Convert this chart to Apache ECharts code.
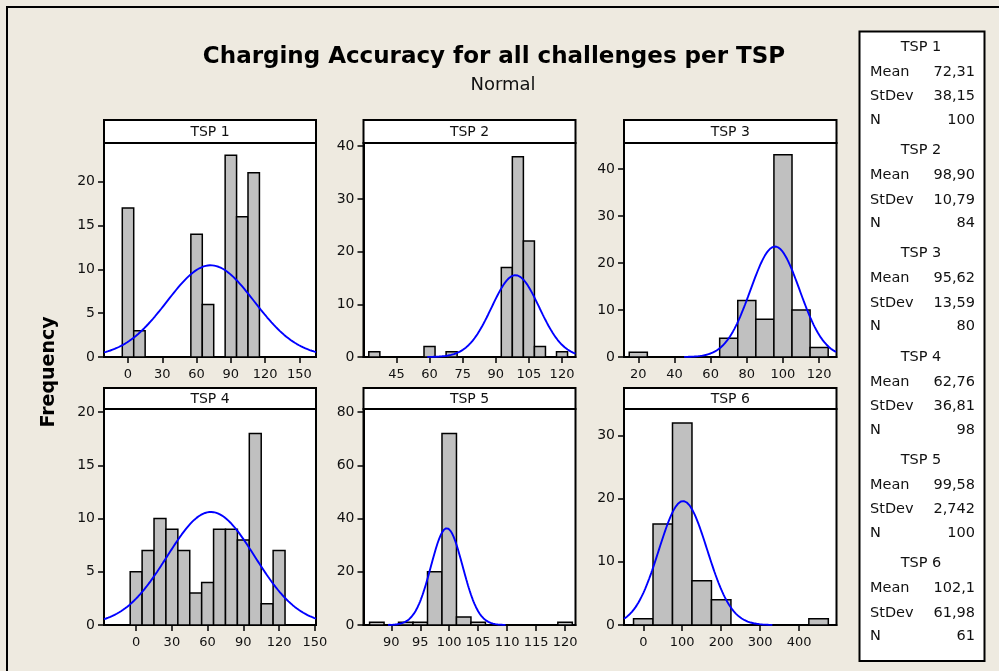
<!DOCTYPE html>
<html><head><meta charset="utf-8">
<script src="https://cdn.jsdelivr.net/npm/echarts@6/dist/echarts.min.js"></script>
<style>html,body{margin:0;padding:0;background:#eeeae0}#c{width:999px;height:671px}</style>
</head><body><div id="c"></div>
<script>
// ---- data ----
const panelNames = ['TSP 1','TSP 2','TSP 3','TSP 4','TSP 5','TSP 6'];
const means = [72.31, 98.90, 95.62, 62.76, 99.58, 102.1];
const stdevs = [38.15, 10.79, 13.59, 36.81, 2.742, 61.98];
const ns = [100, 84, 80, 98, 100, 61];
const meanLabels = ['72,31','98,90','95,62','62,76','99,58','102,1'];
const stdevLabels = ['38,15','10,79','13,59','36,81','2,742','61,98'];
const binWidths = [10, 5, 10, 10, 2.5, 50];
const tsp1Centers = [0,10,60,70,90,100,110];
const tsp1Counts  = [17,3,14,6,23,16,21];
const tsp2Centers = [35,60,70,95,100,105,110,120];
const tsp2Counts  = [1,2,1,17,38,22,2,1];
const tsp3Centers = [20,70,80,90,100,110,120];
const tsp3Counts  = [1,4,12,8,43,10,2];
const tsp4Centers = [0,10,20,30,40,50,60,70,80,90,100,110,120];
const tsp4Counts  = [5,7,10,9,7,3,4,9,9,8,18,2,7];
const tsp5Centers = [87.5,92.5,95,97.5,100,102.5,105,120];
const tsp5Counts  = [1,1,1,20,72,3,1,1];
const tsp6Centers = [0,50,100,150,200,450];
const tsp6Counts  = [1,16,32,7,4,1];
const xTickLabels = [[0,30,60,90,120,150],[45,60,75,90,105,120],[20,40,60,80,100,120],[0,30,60,90,120,150],[90,95,100,105,110,115,120],[0,100,200,300,400]];
const yTickLabels = [[0,5,10,15,20],[0,10,20,30,40],[0,10,20,30,40],[0,5,10,15,20],[0,20,40,60,80],[0,10,20,30]];

// ---- axis ranges / layout ----
const xMins = [-21, 30.1, 12.1, -27, 85.2, -49.5];
const xMaxs = [164.5, 126.1, 129.6, 151, 121.8, 496];
const yMaxs = [24.4, 40.6, 45.5, 20.3, 81.2, 34.2];
const colX = [104, 363.5, 624];
const colW = [212, 212, 212.5];
const rowTop = [143, 409];
const rowH = [214, 216];
const headTop = [120, 388];

const FONT = 'DejaVu Sans';
const centers = [tsp1Centers,tsp2Centers,tsp3Centers,tsp4Centers,tsp5Centers,tsp6Centers];
const counts = [tsp1Counts,tsp2Counts,tsp3Counts,tsp4Counts,tsp5Counts,tsp6Counts];

const grids = [], xAxes = [], yAxes = [], series = [], graphics = [];

// outer frame
graphics.push({type:'rect', shape:{x:7, y:7, width:1100, height:1100}, style:{fill:'none', stroke:'#000', lineWidth:2}, z:0});

for (let i = 0; i < 6; i++) {
  const r = Math.floor(i/3), c = i%3;
  grids.push({left:colX[c], top:rowTop[r], width:colW[c], height:rowH[r], show:true, backgroundColor:'#fff', borderColor:'#000', borderWidth:2, containLabel:false});
  xAxes.push({type:'value', gridIndex:i, min:xMins[i], max:xMaxs[i],
    axisLine:{show:true, onZero:false, lineStyle:{color:'#000', width:2}},
    axisTick:{show:true, customValues:xTickLabels[i], length:6, lineStyle:{color:'#000', width:1.5}},
    axisLabel:{customValues:xTickLabels[i], color:'#111', fontSize:13, fontFamily:FONT, margin:11},
    splitLine:{show:false}});
  yAxes.push({type:'value', gridIndex:i, min:0, max:yMaxs[i],
    axisLine:{show:true, onZero:false, lineStyle:{color:'#000', width:2}},
    axisTick:{show:true, customValues:yTickLabels[i], length:6, lineStyle:{color:'#000', width:1.5}},
    axisLabel:{customValues:yTickLabels[i], color:'#111', fontSize:14, fontFamily:FONT, margin:9},
    splitLine:{show:false}});
  const bw = binWidths[i];
  series.push({type:'custom', xAxisIndex:i, yAxisIndex:i, clip:true, z:2,
    data: centers[i].map((v,j)=>[v-bw/2, v+bw/2, counts[i][j]]),
    encode:{x:[0,1], y:2},
    renderItem:function(params, api){
      const p0 = api.coord([api.value(0), api.value(2)]);
      const p1 = api.coord([api.value(1), 0]);
      return {type:'rect', shape:{x:p0[0], y:p0[1], width:p1[0]-p0[0], height:p1[1]-p0[1]},
        style:{fill:'#c0c0c0', stroke:'#000', lineWidth:1.5}};
    }});
  // fitted normal curve (from the stated mean / stdev / N and bin width)
  const lo = Math.max(xMins[i], means[i]-3.7*stdevs[i]);
  const hi = Math.min(xMaxs[i], means[i]+3.7*stdevs[i]);
  const pts = [];
  for (let k = 0; k <= 300; k++) {
    const x = lo + (hi-lo)*k/300;
    const z = (x-means[i])/stdevs[i];
    pts.push([x, ns[i]*bw*Math.exp(-0.5*z*z)/(stdevs[i]*Math.sqrt(2*Math.PI))]);
  }
  series.push({type:'line', xAxisIndex:i, yAxisIndex:i, data:pts, showSymbol:false, symbol:'none', clip:true, z:3,
    lineStyle:{color:'#0000ff', width:1.9}, silent:true, animation:false});
  // header strip
  graphics.push({type:'rect', shape:{x:colX[c], y:headTop[r], width:colW[c], height:rowTop[r]-headTop[r]},
    style:{fill:'#fff', stroke:'#000', lineWidth:2}, z:5});
  graphics.push({type:'text', x:colX[c]+colW[c]/2, y:headTop[r]+(rowTop[r]-headTop[r])/2+0.5,
    style:{text:panelNames[i], font:'14px "DejaVu Sans"', fill:'#111', align:'center', verticalAlign:'middle'}, z:6});
}

// titles
graphics.push({type:'text', x:494, y:57, style:{text:'Charging Accuracy for all challenges per TSP', font:'bold 23px "DejaVu Sans"', fill:'#000', align:'center', verticalAlign:'middle'}, z:6});
graphics.push({type:'text', x:503, y:85, style:{text:'Normal', font:'18px "DejaVu Sans"', fill:'#111', align:'center', verticalAlign:'middle'}, z:6});
graphics.push({type:'text', x:49, y:372, rotation:Math.PI/2, style:{text:'Frequency', font:'bold 19px "DejaVu Sans"', fill:'#000', align:'center', verticalAlign:'middle'}, z:6});

// stats box
graphics.push({type:'rect', shape:{x:859.5, y:31.5, width:125, height:629.5}, style:{fill:'#fff', stroke:'#000', lineWidth:2}, z:5});
for (let i = 0; i < 6; i++) {
  const y0 = 47 + i*103.3;
  const st = (t, x, y, al) => graphics.push({type:'text', x:x, y:y, style:{text:t, font:'14.5px "DejaVu Sans"', fill:'#111', align:al, verticalAlign:'middle'}, z:6});
  st(panelNames[i], 921, y0, 'center');
  st('Mean', 870, y0+25, 'left');   st(meanLabels[i], 975, y0+25, 'right');
  st('StDev', 870, y0+49.5, 'left'); st(stdevLabels[i], 975, y0+49.5, 'right');
  st('N', 870, y0+73, 'left');      st(String(ns[i]), 975, y0+73, 'right');
}

const chart = echarts.init(document.getElementById('c'), null, {renderer:'canvas'});
chart.setOption({backgroundColor:'#eeeae0', animation:false, grid:grids, xAxis:xAxes, yAxis:yAxes, series:series, graphic:graphics});
</script></body></html>
